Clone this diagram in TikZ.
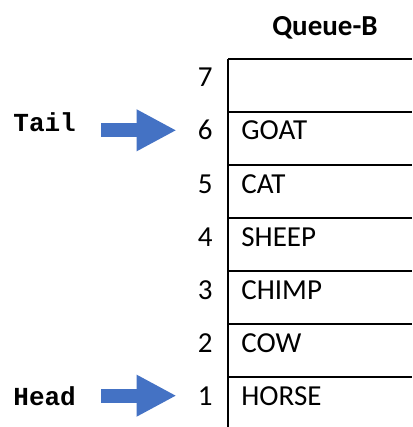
\documentclass[tikz,border=0pt]{standalone}
\usepackage{fontspec}
\setmainfont{Carlito}
\newfontfamily\codefont{Liberation Mono}
\usetikzlibrary{arrows.meta}
\definecolor{qblue}{HTML}{4472C4}
\begin{document}
\begin{tikzpicture}[x=0.5pt,y=-0.5pt,
	lbl/.style={inner sep=0pt,font=\fontsize{14.5}{17}\selectfont},
	idx/.style={lbl,anchor=base east},
	item/.style={lbl,anchor=base west},
	ptr/.style={inner sep=0pt,anchor=base west,font=\codefont\bfseries\fontsize{13}{15}\selectfont},
	rowline/.style={line width=1pt},
	blockarrow/.style={qblue,line width=7pt,-{Triangle[length=20pt,width=19.5pt]},shorten <=12.5pt,shorten >=10.5pt}]
	\useasboundingbox (0,0) rectangle (412,427);
	\node[lbl,font=\bfseries\fontsize{14.5}{17}\selectfont,anchor=base] (title) at (325,36) {Queue-B};
	% the queue cells
	\draw[rowline] (228,59) -- (228,427);
	\foreach \y in {59,112,...,377} \draw[rowline] (228,\y) -- (412,\y);
	\foreach \n/\txt in {7/{},6/GOAT,5/CAT,4/SHEEP,3/CHIMP,2/COW,1/HORSE}{
		\pgfmathsetmacro\yb{87+53*(7-\n)}
		\node[idx] (num\n) at (213,\yb) {\n};
		\node[item] (item\n) at (241,\yb) {\txt};
	}
	% pointers
	\node[ptr] (tail) at (13,131.5) {Tail};
	\node[ptr] (head) at (13,405) {Head};
	\draw[blockarrow] (tail.east |- num6) -- (num6.west);
	\draw[blockarrow] (head.east |- num1) -- (num1.west);
\end{tikzpicture}
\end{document}
